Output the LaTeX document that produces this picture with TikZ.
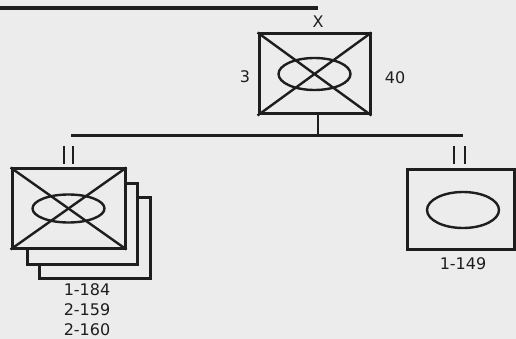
\documentclass[tikz,border=0pt]{standalone}
\usepackage{fontspec}
\setmainfont{DejaVu Sans}
\usetikzlibrary{positioning}
\definecolor{paper}{HTML}{ECECEC}
\definecolor{ink}{HTML}{1E1E1E}

\begin{document}
\begin{tikzpicture}[x=1pt,y=-1pt, line join=miter,
    unitbox/.style={draw=ink, fill=paper, line width=3pt, minimum width=111pt, minimum height=80pt, inner sep=0pt},
    thin/.style={draw=ink, line width=2.4pt},
    lbl/.style={font=\fontsize{16}{19}\selectfont, text=ink, inner sep=0pt}]
    % page
    \fill[paper] (0,0) rectangle (516,339);
    \useasboundingbox (0,0) rectangle (516,339);

    % top rule
    \coordinate (ruleL) at (0,8);
    \coordinate (ruleR) at (318,8);
    \draw[ink, line width=3.4pt] (ruleL) -- (ruleR);

    % top unit
    \node[unitbox] (top) at (314.5,74) {};
    \draw[thin] (top.north west) -- (top.south east);
    \draw[thin] (top.south west) -- (top.north east);
    \draw[thin] (top.center) ellipse [x radius=36, y radius=16];
    \node[lbl] (topx) at (318,22) {X};
    \node[lbl] (topl) at (245,77) {3};
    \node[lbl] (topr) at (395,78) {40};

    % bus
    \coordinate (busL) at (71,136);
    \coordinate (busR) at (463,136);
    \coordinate (busM) at (318,136);
    \draw[ink, line width=3pt] (busL) -- (busR);
    \draw[ink, line width=2.8pt] (top.south -| busM) -- (busM);

    % left stack
    \node[unitbox, minimum width=111pt, minimum height=81pt] (lback) at (94.5,237.5) {};
    \node[unitbox, minimum width=110pt, minimum height=81pt] (lmid) at (82,223.5) {};
    \node[unitbox, minimum width=113pt, minimum height=79pt] (lfront) at (68.5,208.5) {};
    \draw[thin] (lfront.north west) -- (lfront.south east);
    \draw[thin] (lfront.south west) -- (lfront.north east);
    \draw[thin] (lfront.center) ellipse [x radius=36, y radius=14];
    \draw[ink, line width=2.2pt] (64,146) -- (64,164) (73,146) -- (73,164);
    \node[lbl] (lnum1) at (87,290) {1-184};
    \node[lbl] (lnum2) at (87,310) {2-159};
    \node[lbl] (lnum3) at (87,330) {2-160};

    % right unit
    \node[unitbox, minimum width=107pt, minimum height=79pt] (rbox) at (461,209.5) {};
    \draw[thin] (463,210) ellipse [x radius=36, y radius=18];
    \draw[ink, line width=2.2pt] (454,146) -- (454,164) (465,146) -- (465,164);
    \node[lbl] (rnum) at (463,264) {1-149};
\end{tikzpicture}
\end{document}
